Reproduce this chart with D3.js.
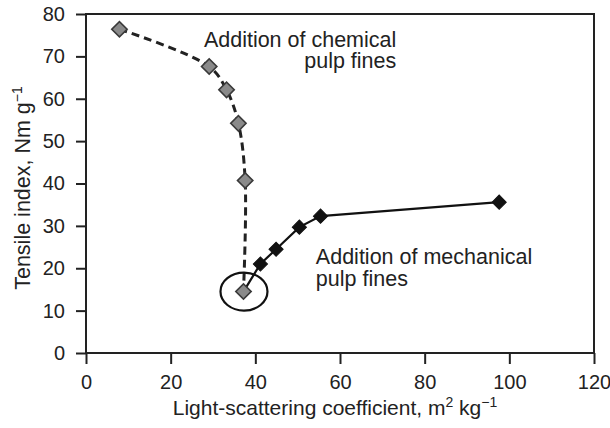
<!DOCTYPE html>
<html>
<head>
<meta charset="utf-8">
<script src="https://cdn.jsdelivr.net/npm/d3@7"></script>
<style>
  html, body { margin: 0; padding: 0; background: #fff; }
  svg { display: block; font-family: "Liberation Sans", Arial, Helvetica, sans-serif; }
</style>
</head>
<body>
<svg id="chart" width="610" height="428"></svg>
<script>
// Chemical pulp fines series (dashed, grey markers)
const chemScattering = [7.9, 29.1, 33.2, 36.0, 37.6, 37.2];
const chemTensile    = [76.4, 67.6, 62.1, 54.2, 40.7, 14.5];

// Mechanical pulp fines series (solid, black markers), starting from the reference pulp
const mechScattering = [37.2, 41.2, 44.9, 50.4, 55.4, 97.6];
const mechTensile    = [14.5, 21.0, 24.5, 29.7, 32.3, 35.6];

// Axis ticks
const xTicks = [0, 20, 40, 60, 80, 100, 120];
const yTicks = [0, 10, 20, 30, 40, 50, 60, 70, 80];

const width = 610, height = 428;
const margin = { top: 14, right: 16, bottom: 75, left: 86 };
const innerW = width - margin.left - margin.right;
const innerH = height - margin.top - margin.bottom;

const svg = d3.select("#chart");
const g = svg.append("g").attr("transform", `translate(${margin.left},${margin.top})`);

const x = d3.scaleLinear().domain([0, 120]).range([0, innerW]);
const y = d3.scaleLinear().domain([0, 80]).range([innerH, 0]);

// Axes
const xAxis = g.append("g")
  .attr("transform", `translate(0,${innerH})`)
  .call(d3.axisBottom(x).tickValues(xTicks).tickSize(11).tickPadding(11).tickFormat(d3.format("d")));
const yAxis = g.append("g")
  .call(d3.axisLeft(y).tickValues(yTicks).tickSize(10).tickPadding(11).tickFormat(d3.format("d")));

[xAxis, yAxis].forEach(a => {
  a.select(".domain").remove();
  a.selectAll(".tick line").attr("stroke", "#222").attr("stroke-width", 2);
  a.selectAll(".tick text").attr("fill", "#222").style("font-size", "20px")
    .style("font-family", "'Liberation Sans', Arial, sans-serif");
});

// Plot frame
g.append("rect")
  .attr("x", 0).attr("y", 0).attr("width", innerW).attr("height", innerH)
  .attr("fill", "none").attr("stroke", "#222").attr("stroke-width", 2);

const chem = chemScattering.map((v, i) => [v, chemTensile[i]]);
const mech = mechScattering.map((v, i) => [v, mechTensile[i]]);

// Dashed curve for chemical fines
g.append("path")
  .datum(chem)
  .attr("d", d3.line().x(d => x(d[0])).y(d => y(d[1])).curve(d3.curveCatmullRom.alpha(0.5)))
  .attr("fill", "none").attr("stroke", "#222").attr("stroke-width", 3)
  .attr("stroke-dasharray", "8,5");

// Solid line for mechanical fines
g.append("path")
  .datum(mech)
  .attr("d", d3.line().x(d => x(d[0])).y(d => y(d[1])))
  .attr("fill", "none").attr("stroke", "#111").attr("stroke-width", 2.2);

// Markers (squares rotated into diamonds)
const diamond = d3.symbol().type(d3.symbolSquare);

g.selectAll(".mech-pt")
  .data(mech.slice(1))
  .join("path")
  .attr("class", "mech-pt")
  .attr("d", diamond.size(100)())
  .attr("transform", d => `translate(${x(d[0])},${y(d[1])}) rotate(45)`)
  .attr("fill", "#111").attr("stroke", "#111").attr("stroke-width", 1);

g.selectAll(".chem-pt")
  .data(chem)
  .join("path")
  .attr("class", "chem-pt")
  .attr("d", diamond.size(118)())
  .attr("transform", d => `translate(${x(d[0])},${y(d[1])}) rotate(45)`)
  .attr("fill", "#8a8a8a").attr("stroke", "#3a3a3a").attr("stroke-width", 1.6);

// Ring around the common starting pulp
const start = chem[chem.length - 1];
g.append("ellipse")
  .attr("cx", x(start[0]) + 0.5).attr("cy", y(start[1]))
  .attr("rx", 23.5).attr("ry", 19)
  .attr("fill", "none").attr("stroke", "#111").attr("stroke-width", 2.2);

// Annotations
const annFont = "21.5px";
const chemLabel = g.append("text")
  .attr("x", x(73.3)).attr("y", y(72.3))
  .attr("text-anchor", "end").attr("fill", "#222").style("font-size", annFont);
chemLabel.append("tspan").attr("x", x(73.3)).text("Addition of chemical");
chemLabel.append("tspan").attr("x", x(73.3)).attr("dy", 21.6).text("pulp fines");

const mechLabel = g.append("text")
  .attr("x", x(54.3)).attr("y", y(21.0))
  .attr("fill", "#222").style("font-size", annFont);
mechLabel.append("tspan").attr("x", x(54.3)).text("Addition of mechanical");
mechLabel.append("tspan").attr("x", x(54.3)).attr("dy", 21.6).text("pulp fines");

// Axis titles with superscripts
const xTitle = svg.append("text")
  .attr("x", margin.left + innerW / 2 - 5).attr("y", 415)
  .attr("text-anchor", "middle").attr("fill", "#222").style("font-size", "21px");
xTitle.append("tspan").text("Light-scattering coefficient, m");
xTitle.append("tspan").attr("dy", -8).style("font-size", "14px").text("2");
xTitle.append("tspan").attr("dy", 8).text(" kg");
xTitle.append("tspan").attr("dy", -8).style("font-size", "14px").text("\u22121");

const yTitle = svg.append("text")
  .attr("transform", `translate(30,188) rotate(-90)`)
  .attr("text-anchor", "middle").attr("fill", "#222").style("font-size", "21.5px");
yTitle.append("tspan").text("Tensile index, Nm g");
yTitle.append("tspan").attr("dy", -8).style("font-size", "14px").text("\u22121");
</script>
</body>
</html>
